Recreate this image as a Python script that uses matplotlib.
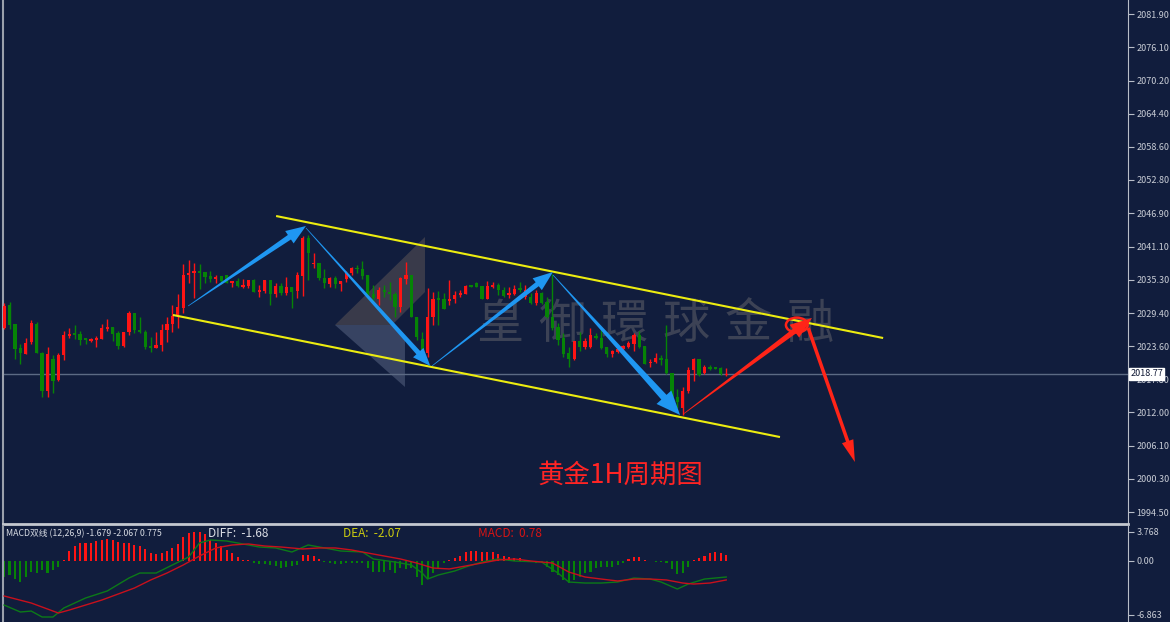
import matplotlib
matplotlib.use("Agg")
import matplotlib.pyplot as plt
import matplotlib.transforms as mtransforms
from matplotlib.patches import Polygon, Ellipse
import numpy as np

plt.rcParams['font.family'] = ['Noto Sans CJK SC', 'DejaVu Sans']

# ---- data (XAUUSD, 1H candles) ----
opens = [2026.8, 2030.8, 2027.5, 2023.3, 2022.2, 2024.3, 2027.5, 2022.4, 2015.7, 2021.4,
         2017.7, 2022.1, 2025.4, 2025.9, 2025.7, 2025.0, 2024.5, 2024.7, 2024.9, 2026.6,
         2027.0, 2025.9, 2023.6, 2026.1, 2029.4, 2026.5, 2026.1, 2023.6, 2023.3, 2023.8,
         2026.5, 2027.5, 2028.9, 2030.3, 2036.1, 2036.5, 2036.8, 2036.6, 2035.9, 2035.4,
         2035.9, 2036.1, 2034.7, 2035.0, 2034.0, 2034.2, 2035.2, 2033.1, 2033.3, 2035.2,
         2032.8, 2034.2, 2032.9, 2034.0, 2033.3, 2035.9, 2042.6, 2038.0, 2038.2, 2035.6,
         2034.5, 2035.6, 2034.5, 2035.4, 2036.5, 2037.3, 2037.2, 2036.1, 2032.8, 2031.9,
         2033.5, 2033.1, 2032.8, 2030.5, 2035.4, 2036.1, 2028.7, 2024.9, 2022.4, 2028.7,
         2032.1, 2031.9, 2031.5, 2031.9, 2032.6, 2032.8, 2034.3, 2034.7, 2034.2, 2031.9,
         2034.0, 2034.3, 2033.5, 2032.6, 2032.8, 2033.8, 2032.2, 2032.2, 2031.2, 2032.9,
         2031.4, 2028.7, 2027.0, 2025.0, 2022.4, 2021.4, 2024.5, 2023.5, 2023.5, 2025.4,
         2025.0, 2023.5, 2022.2, 2022.6, 2023.1, 2023.5, 2024.0, 2025.6, 2023.6, 2020.7,
         2020.8, 2021.5, 2021.4, 2018.9, 2014.7, 2012.8, 2015.7, 2019.4, 2021.4, 2018.9,
         2020.0, 2020.0, 2019.8, 2018.6]
highs = [2031.2, 2031.4, 2027.5, 2024.0, 2025.0, 2028.2, 2027.9, 2022.6, 2023.5, 2022.1,
         2022.4, 2026.3, 2026.8, 2027.3, 2026.3, 2025.0, 2025.0, 2025.4, 2027.5, 2028.4,
         2027.0, 2026.3, 2026.1, 2029.8, 2029.4, 2028.7, 2026.5, 2025.2, 2026.1, 2027.5,
         2028.7, 2030.8, 2032.8, 2038.0, 2038.7, 2038.2, 2038.0, 2036.6, 2036.8, 2036.1,
         2035.9, 2036.1, 2035.0, 2035.6, 2035.4, 2035.2, 2035.4, 2034.3, 2035.2, 2035.2,
         2034.7, 2034.7, 2035.7, 2034.0, 2036.6, 2042.9, 2043.1, 2040.0, 2038.2, 2037.2,
         2035.7, 2035.9, 2035.0, 2036.8, 2037.5, 2037.9, 2038.6, 2036.1, 2034.3, 2034.0,
         2034.3, 2034.9, 2033.1, 2035.7, 2038.4, 2036.1, 2028.7, 2026.1, 2033.8, 2033.1,
         2033.3, 2032.9, 2035.2, 2033.3, 2033.5, 2034.3, 2034.3, 2034.9, 2034.2, 2035.0,
         2034.9, 2034.7, 2034.0, 2034.0, 2034.3, 2034.9, 2034.3, 2032.9, 2033.5, 2033.1,
         2032.2, 2036.3, 2027.7, 2025.9, 2023.5, 2024.5, 2026.1, 2025.0, 2026.8, 2025.9,
         2026.5, 2023.5, 2022.9, 2023.5, 2023.8, 2024.5, 2025.9, 2026.3, 2023.6, 2021.4,
         2022.4, 2022.1, 2027.3, 2018.9, 2016.1, 2016.4, 2020.0, 2021.5, 2021.4, 2020.3,
         2020.3, 2020.0, 2020.0, 2019.8]
lows = [2026.6, 2026.6, 2021.4, 2020.5, 2022.2, 2024.0, 2022.4, 2014.7, 2014.7, 2015.4,
        2017.5, 2021.2, 2025.0, 2024.9, 2023.8, 2024.0, 2024.3, 2023.5, 2024.9, 2026.3,
        2024.5, 2023.1, 2023.5, 2025.6, 2025.9, 2025.9, 2023.1, 2022.6, 2023.3, 2022.8,
        2024.3, 2026.1, 2026.8, 2029.4, 2034.7, 2032.1, 2033.6, 2034.7, 2034.9, 2034.7,
        2034.5, 2034.7, 2034.0, 2034.0, 2033.8, 2033.8, 2033.1, 2032.2, 2032.9, 2030.8,
        2032.2, 2032.6, 2032.6, 2030.3, 2032.1, 2032.4, 2035.2, 2037.3, 2035.2, 2033.8,
        2034.0, 2033.8, 2033.3, 2034.9, 2036.1, 2036.5, 2035.4, 2031.9, 2031.4, 2030.8,
        2032.2, 2031.7, 2028.7, 2029.6, 2034.5, 2028.7, 2024.7, 2022.2, 2021.7, 2027.3,
        2027.3, 2030.1, 2030.8, 2031.2, 2032.2, 2032.8, 2034.0, 2034.0, 2031.9, 2031.9,
        2033.8, 2032.6, 2032.2, 2032.1, 2032.6, 2033.1, 2031.9, 2031.0, 2030.8, 2031.0,
        2028.6, 2026.5, 2023.8, 2021.7, 2020.0, 2021.2, 2022.8, 2023.1, 2023.3, 2024.9,
        2023.1, 2021.7, 2021.7, 2022.4, 2022.8, 2023.3, 2022.8, 2023.3, 2020.5, 2020.0,
        2020.7, 2020.3, 2018.7, 2014.5, 2012.8, 2011.5, 2015.4, 2017.5, 2018.4, 2018.7,
        2019.4, 2019.6, 2018.6, 2018.4]
closes = [2030.7, 2027.3, 2023.1, 2022.4, 2024.2, 2027.7, 2022.4, 2015.7, 2022.2, 2017.5,
          2022.1, 2025.6, 2025.7, 2025.6, 2024.7, 2024.7, 2024.9, 2025.0, 2026.8, 2027.0,
          2025.7, 2023.6, 2026.1, 2029.4, 2026.5, 2026.1, 2023.5, 2023.3, 2023.8, 2026.5,
          2027.5, 2028.9, 2030.5, 2036.1, 2036.5, 2036.8, 2036.5, 2035.7, 2035.4, 2035.7,
          2035.0, 2034.7, 2035.0, 2034.2, 2034.3, 2035.2, 2033.1, 2033.5, 2035.2, 2032.8,
          2034.2, 2032.9, 2034.0, 2033.1, 2036.1, 2042.6, 2040.0, 2038.2, 2035.6, 2034.7,
          2035.6, 2034.5, 2035.0, 2036.5, 2037.3, 2037.2, 2035.9, 2032.4, 2032.1, 2033.5,
          2033.1, 2032.8, 2030.5, 2035.6, 2036.1, 2028.7, 2025.2, 2022.4, 2028.7, 2031.9,
          2031.7, 2030.1, 2031.9, 2032.6, 2032.9, 2034.2, 2034.0, 2034.0, 2031.9, 2034.2,
          2034.3, 2033.5, 2032.4, 2032.9, 2033.6, 2033.5, 2033.5, 2031.2, 2032.9, 2031.2,
          2028.7, 2026.8, 2024.7, 2022.2, 2021.4, 2024.5, 2023.5, 2024.5, 2025.6, 2025.0,
          2023.3, 2022.2, 2022.8, 2023.1, 2023.6, 2024.2, 2025.6, 2023.5, 2020.5, 2020.8,
          2021.5, 2021.2, 2018.9, 2014.7, 2013.8, 2015.7, 2019.4, 2021.4, 2018.6, 2020.0,
          2019.6, 2019.6, 2018.7, 2018.77]

macd_hist = [-2.05, -1.79, -2.31, -2.69, -2.05, -1.41, -1.54, -1.15, -1.54, -1.15, -0.77,
             0.10, 1.28, 1.92, 2.31, 2.31, 2.31, 2.56, 2.69, 2.82, 2.69,
             2.43, 2.31, 2.31, 2.05, 1.92, 1.54, 1.02, 0.90, 1.02, 1.28,
             1.67, 2.18, 3.07, 3.59, 3.71, 3.71, 3.46, 2.69, 2.31, 1.92,
             1.41, 1.02, 0.51, 0.13, 0.10, -0.26, -0.38, -0.38, -0.51, -0.64,
             -0.90, -0.77, -0.64, -0.51, 0.77, 0.77, 0.64, 0.26, -0.13, -0.26,
             -0.38, -0.38, -0.26, -0.26, -0.20, -0.26, -0.90, -1.41, -1.41, -1.41,
             -1.15, -1.54, -0.90, -1.02, -0.90, -2.05, -3.07, -2.31, -1.54, -0.90,
             -0.26, 0.13, 0.38, 0.64, 1.15, 1.28, 1.28, 1.15, 1.15, 1.15,
             0.90, 0.64, 0.51, 0.38, 0.38, 0.13, 0.05, -0.26, -0.26, -0.77,
             -1.41, -1.79, -2.43, -2.82, -2.43, -2.05, -1.54, -1.41, -0.90, -0.77,
             -0.77, -0.77, -0.51, -0.26, 0.26, 0.51, 0.51, 0.13, 0.05, -0.13,
             -0.13, -0.26, -1.02, -1.67, -1.54, -0.77, 0.13, 0.38, 0.64, 1.02,
             1.15, 1.02, 0.78]

diff_idx = [0, 3, 5, 7, 9, 11, 15, 19, 23, 25, 28, 31, 34, 36, 38, 41, 45, 47, 50, 53,
            56, 59, 62, 66, 68, 72, 75, 77, 78, 80, 83, 85, 88, 91, 94, 99, 102, 104, 107,
            110, 113, 116, 119, 121, 124, 126, 129, 133]
diff_val = [-5.64, -6.53, -6.41, -7.17, -7.17, -6.02, -4.74, -3.84, -2.18, -1.54, -1.54,
            -0.51, 0.51, 2.31, 2.69, 2.56, 2.05, 1.79, 1.67, 1.15, 2.05, 1.67, 1.28, 1.15,
            0.26, -0.13, -0.51, -1.54, -2.31, -1.79, -1.28, -0.77, -0.13, 0.26, 0.00, -0.13,
            -1.54, -2.69, -2.82, -2.82, -2.69, -2.18, -2.31, -2.69, -3.59, -2.95, -2.31, -2.05]
dea_idx = [0, 5, 10, 12, 18, 24, 27, 30, 33, 36, 39, 42, 45, 48, 51, 55, 58, 61, 64, 67,
           70, 73, 76, 79, 82, 85, 88, 91, 94, 97, 101, 104, 107, 110, 113, 116, 119, 122,
           125, 127, 130, 133]
dea_val = [-4.48, -5.38, -6.66, -6.28, -5.00, -3.46, -2.43, -1.54, -0.51, 0.64, 1.67, 2.05,
           2.18, 1.92, 1.79, 1.54, 1.67, 1.67, 1.41, 1.02, 0.64, 0.26, -0.26, -0.90, -1.02,
           -0.64, -0.26, 0.13, 0.26, 0.00, -0.26, -1.41, -2.05, -2.31, -2.56, -2.31, -2.31,
           -2.43, -2.82, -2.95, -2.82, -2.43]

price_ticks = [2081.90, 2076.10, 2070.20, 2064.40, 2058.60, 2052.80, 2046.90, 2041.10,
               2035.30, 2029.40, 2023.60, 2017.80, 2012.00, 2006.10, 2000.30, 1994.50]
macd_ticks = [3.768, 0.0, -6.863]
macd_tick_labels = ['3.768', '0.00', '-6.863']
bid = 2018.77

# channel anchors (bar index, price)
upper_chan = [(50.1, 2046.45), (161.9, 2025.04)]
lower_chan = [(31.1, 2029.08), (142.9, 2007.66)]
# arrows: (tail, tip)
blue_arrows = [((33.9, 2030.66), (55.6, 2044.70)),
               ((55.6, 2044.35), (78.5, 2020.13)),
               ((78.8, 2020.13), (101.1, 2036.63)),
               ((101.1, 2036.10), (124.5, 2011.53))]
red_up = ((125.1, 2011.70), (148.8, 2028.55))
red_down = ((148.1, 2026.80), (156.7, 2003.28))
ring_center = (146.0, 2027.32)

BG = '#111d3d'
UP = '#ff1414'
DN = '#068406'
TXT = '#c9cdd6'

fig = plt.figure(figsize=(11.70, 6.22), dpi=100, facecolor=BG)
W, H = 1170.0, 622.0
ax = fig.add_axes([3 / W, 1 - 524 / H, 1125 / W, 524 / H], facecolor=BG)
ax2 = fig.add_axes([3 / W, 0, 1125 / W, 96 / H], facecolor=BG)

n = len(closes)
idx = np.arange(n)
ax.set_xlim(-0.2, 207.0)
ax2.set_xlim(-0.2, 207.0)
ax.set_ylim(1992.40, 2084.36)
ax2.set_ylim(-7.81, 4.48)

for a in (ax, ax2):
    a.spines['top'].set_visible(False)
    a.spines['right'].set_color('#b8bdc8')
    a.spines['left'].set_color('#9aa0ac')
    a.spines['left'].set_linewidth(1.5)
    a.spines['bottom'].set_visible(False)
    a.yaxis.tick_right()
    a.tick_params(axis='y', colors='#b8bdc8', labelcolor=TXT, labelsize=6.5,
                  length=4, width=0.8, pad=2)
    a.set_xticks([])
ax.spines['bottom'].set_visible(True)
ax.spines['bottom'].set_color('#c4c8d0')
ax.spines['bottom'].set_linewidth(2)

ax.set_yticks(price_ticks)
ax.set_yticklabels(['%.2f' % p for p in price_ticks])
ax2.set_yticks(macd_ticks)
ax2.set_yticklabels(macd_tick_labels)

# ---- watermark ----
logo_dark = [(0.2951, 0.3798), (0.3751, 0.5477), (0.3751, 0.4427), (0.3458, 0.3798)]
logo_light = [(0.2951, 0.3798), (0.3458, 0.3798), (0.3573, 0.3550), (0.3573, 0.2615)]
ax.add_patch(Polygon(logo_dark, closed=True, transform=ax.transAxes,
                     fc='#6a5f5c', ec='none', alpha=0.45, zorder=1))
ax.add_patch(Polygon(logo_light, closed=True, transform=ax.transAxes,
                     fc='#5d6a88', ec='none', alpha=0.5, zorder=1))
for k, ch in enumerate('皇御環球金融'):
    ax.text(0.4418 + k * 0.0551, 0.380, ch, transform=ax.transAxes, fontsize=34,
            color='#5a5c66', alpha=0.6, ha='center', va='center',
            family=['Noto Sans CJK TC', 'Noto Sans CJK SC'], zorder=1)

# ---- bid line ----
ax.axhline(bid, color='#5c6a84', lw=1, zorder=2)
ax.text(1.002, bid, '%.2f' % bid,
        transform=mtransforms.blended_transform_factory(ax.transAxes, ax.transData),
        fontsize=6.5, color='#0e1733', va='center', ha='left', clip_on=False, zorder=10,
        bbox=dict(boxstyle='square,pad=0.15', fc='white', ec='white'))

# ---- candles ----
o = np.array(opens); c = np.array(closes); h = np.array(highs); l = np.array(lows)
cols = [UP if cc >= oo else DN for oo, cc in zip(o, c)]
ax.vlines(idx, l, h, colors=cols, lw=1, zorder=3)
body_lo = np.minimum(o, c)
body_h = np.maximum(np.abs(c - o), 0.15)
ax.bar(idx, body_h, bottom=body_lo, width=0.6, color=cols, linewidth=0, zorder=3)

# ---- channel ----
for seg in (upper_chan, lower_chan):
    xs, ys = zip(*seg)
    ax.plot(xs, ys, color='#ecec10', lw=1.5, zorder=4, solid_capstyle='butt')


def taper_arrow(axis, p0, p1, color, w_tail=0.6, w_neck=5.0, head_w=14.0, head_l=18.0):
    """fleche effilee, largeurs en pixels"""
    tr = axis.transData
    a = np.array(tr.transform(p0))
    b = np.array(tr.transform(p1))
    d = b - a
    u = d / np.hypot(*d)
    nrm = np.array([-u[1], u[0]])
    neck = b - u * head_l
    pts = [a + nrm * w_tail / 2, neck + nrm * w_neck / 2, neck + nrm * head_w / 2, b,
           neck - nrm * head_w / 2, neck - nrm * w_neck / 2, a - nrm * w_tail / 2]
    pts = tr.inverted().transform(np.array(pts))
    axis.add_patch(Polygon(pts, closed=True, fc=color, ec='none', zorder=6))


arrow_sizes = [(5.5, 15, 20), (5, 14, 18), (5, 15, 20), (7, 20, 24)]
for (p0, p1), (wn, hw, hl) in zip(blue_arrows, arrow_sizes):
    taper_arrow(ax, p0, p1, '#1f97f2', w_neck=wn, head_w=hw, head_l=hl)
taper_arrow(ax, red_up[0], red_up[1], '#ff2418', w_neck=5.5, head_w=16, head_l=22)
taper_arrow(ax, red_down[0], red_down[1], '#ff2418', w_tail=3.5, w_neck=3.5, head_w=12, head_l=22)
ax.add_patch(Ellipse(ring_center, 4.0, 2.6, fill=False, ec='#ff2418', lw=1.8, zorder=6))

ax.text(0.549, 0.0935, '黄金1H周期图', transform=ax.transAxes, fontsize=19,
        color='#ff2424', ha='center', va='center', zorder=7)

# ---- MACD panel ----
hist = np.array(macd_hist)
ax2.bar(idx, hist, width=0.38, color=[UP if v > 0 else DN for v in hist],
        linewidth=0, zorder=2)
ax2.plot(diff_idx, diff_val, color='#0c7a18', lw=1, zorder=3)
ax2.plot(dea_idx, dea_val, color='#c8101c', lw=1, zorder=3)

ax2.text(0.0027, 0.925, 'MACD双线 (12,26,9) -1.679 -2.067 0.775', transform=ax2.transAxes,
         fontsize=6.3, color='#d8dce4', ha='left', va='center')
ax2.text(0.182, 0.925, 'DIFF:  -1.68', transform=ax2.transAxes, fontsize=8.5,
         color='#dcdfe6', ha='left', va='center')
ax2.text(0.302, 0.925, 'DEA:  -2.07', transform=ax2.transAxes, fontsize=8.5,
         color='#cccc10', ha='left', va='center')
ax2.text(0.422, 0.925, 'MACD:  0.78', transform=ax2.transAxes, fontsize=8.5,
         color='#d81414', ha='left', va='center')

fig.savefig('out.png', dpi=100, facecolor=BG)
